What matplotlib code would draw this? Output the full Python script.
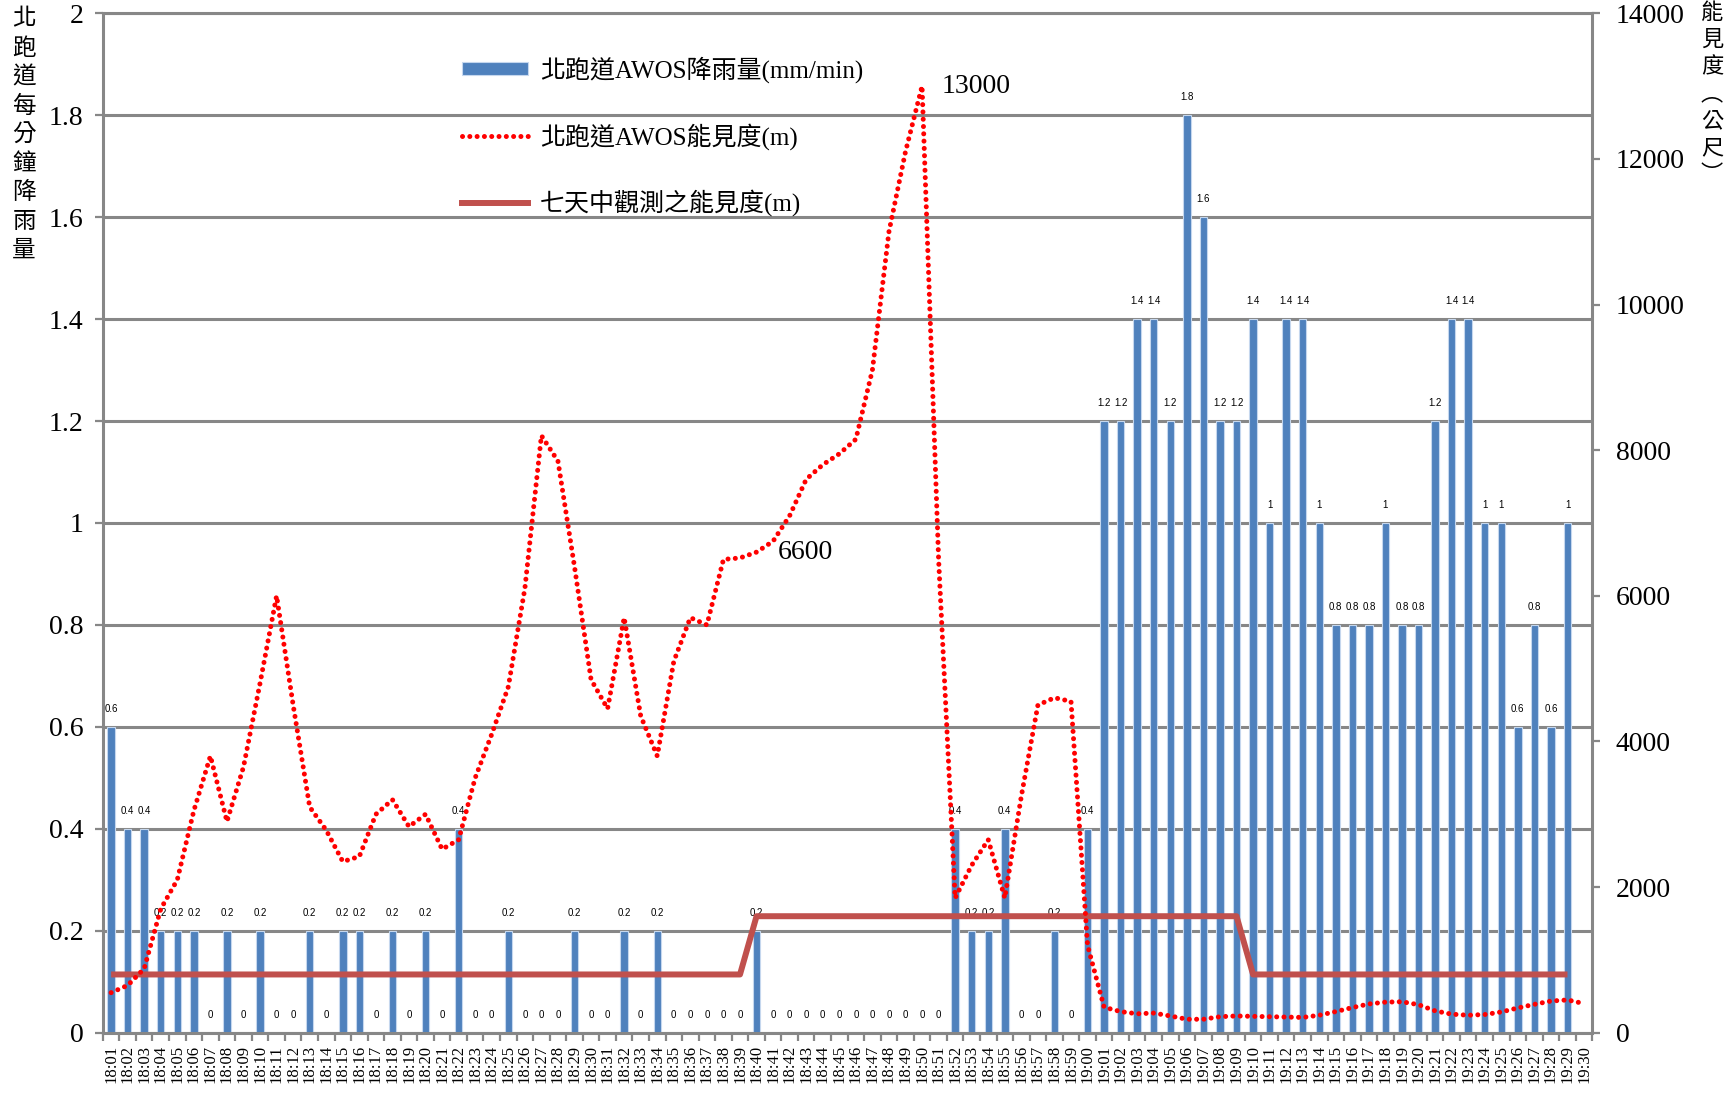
import numpy as np
import matplotlib
matplotlib.use("Agg")
import matplotlib.pyplot as plt
from matplotlib.patches import Patch
from matplotlib.lines import Line2D

plt.rcParams['font.family'] = ['Liberation Serif', 'Noto Sans CJK TC', 'DejaVu Sans']

times = ["18:01", "18:02", "18:03", "18:04", "18:05", "18:06", "18:07", "18:08", "18:09", "18:10",
         "18:11", "18:12", "18:13", "18:14", "18:15", "18:16", "18:17", "18:18", "18:19", "18:20",
         "18:21", "18:22", "18:23", "18:24", "18:25", "18:26", "18:27", "18:28", "18:29", "18:30",
         "18:31", "18:32", "18:33", "18:34", "18:35", "18:36", "18:37", "18:38", "18:39", "18:40",
         "18:41", "18:42", "18:43", "18:44", "18:45", "18:46", "18:47", "18:48", "18:49", "18:50",
         "18:51", "18:52", "18:53", "18:54", "18:55", "18:56", "18:57", "18:58", "18:59", "19:00",
         "19:01", "19:02", "19:03", "19:04", "19:05", "19:06", "19:07", "19:08", "19:09", "19:10",
         "19:11", "19:12", "19:13", "19:14", "19:15", "19:16", "19:17", "19:18", "19:19", "19:20",
         "19:21", "19:22", "19:23", "19:24", "19:25", "19:26", "19:27", "19:28", "19:29", "19:30"]

# rain (mm/min), 18:01 - 19:29
rain = [0.6, 0.4, 0.4, 0.2, 0.2, 0.2, 0, 0.2, 0, 0.2,
        0, 0, 0.2, 0, 0.2, 0.2, 0, 0.2, 0, 0.2,
        0, 0.4, 0, 0, 0.2, 0, 0, 0, 0.2, 0,
        0, 0.2, 0, 0.2, 0, 0, 0, 0, 0, 0.2,
        0, 0, 0, 0, 0, 0, 0, 0, 0, 0,
        0, 0.4, 0.2, 0.2, 0.4, 0, 0, 0.2, 0, 0.4,
        1.2, 1.2, 1.4, 1.4, 1.2, 1.8, 1.6, 1.2, 1.2, 1.4,
        1, 1.4, 1.4, 1, 0.8, 0.8, 0.8, 1, 0.8, 0.8,
        1.2, 1.4, 1.4, 1, 1, 0.6, 0.8, 0.6, 1]

# AWOS visibility (m), 18:01 - 19:30
vis = [550, 650, 880, 1700, 2100, 3050, 3800, 2900, 3650, 4800,
       6000, 4500, 3100, 2780, 2350, 2420, 3000, 3200, 2830, 3000,
       2520, 2650, 3500, 4100, 4750, 6100, 8200, 7850, 6400, 4850,
       4450, 5700, 4350, 3800, 5100, 5700, 5600, 6500, 6520, 6600,
       6750, 7100, 7600, 7800, 7950, 8150, 9100, 11000, 12100, 13000,
       6500, 1850, 2300, 2650, 1850, 3250, 4500, 4600, 4550, 1200,
       350, 290, 260, 270, 230, 185, 185, 220, 230, 225,
       220, 215, 210, 240, 290, 345, 395, 420, 425, 385,
       300, 255, 240, 250, 285, 340, 390, 435, 450, 400]

# seven-day observed visibility (m), 18:01 - 19:29
vis7 = [800] * 39 + [1600] * 30 + [800] * 20

rain_label = "北跑道AWOS降雨量(mm/min)"
vis_label = "北跑道AWOS能見度(m)"
vis7_label = "七天中觀測之能見度(m)"
left_title = "北\n跑\n道\n每\n分\n鐘\n降\n雨\n量"
right_title = "能\n見\n度\n︵\n公\n尺\n︶"

BLUE = "#4F81BD"
RED = "#FF0000"
DRED = "#C0504D"
GRAY = "#878787"

fig = plt.figure(figsize=(17.34, 10.97), dpi=100)
ax = fig.add_axes([0.0593, 0.0586, 0.859, 0.9293])
ax2 = ax.twinx()

x = np.arange(len(times))
xr = np.arange(len(rain))
xs = np.arange(len(vis7))

ax.bar(xr, rain, width=0.45, color=BLUE, edgecolor="#C5D7EE", linewidth=0.8, zorder=2)
for i, v in zip(xr, rain):
    ax.annotate(f"{v:g}", (i, v), xytext=(0, 13), textcoords="offset points",
                ha="center", va="center", fontsize=7, family=["Liberation Sans"], zorder=3)

ax.set_xlim(-0.5, len(times) - 0.5)
ax.set_ylim(0, 2)
ax.set_yticks(np.arange(0, 2.01, 0.2))
ax.set_yticklabels([f"{t:g}" for t in np.round(np.arange(0, 2.01, 0.2), 1)])
ax.yaxis.grid(True, color=GRAY, linewidth=2.2)
ax.set_axisbelow(True)

ax.set_xticks(x)
ax.set_xticklabels(times, rotation=90, fontsize=12)
ax.set_xticks(np.arange(-0.5, len(times), 1), minor=True)
ax.tick_params(axis="x", which="major", length=0, pad=9)
ax.tick_params(axis="x", which="minor", length=6, width=1.6, color=GRAY, direction="out")
ax.tick_params(axis="y", direction="out", length=6, width=1.6, color=GRAY, labelsize=20, pad=8)

for s in ["left", "bottom", "top"]:
    ax.spines[s].set_color(GRAY)
    ax.spines[s].set_linewidth(2.2)
ax.spines["right"].set_visible(False)

dot_style = (0, (0.01, 1.45))
ax2.plot(xs, vis7, color=DRED, linewidth=4.3, solid_capstyle="butt", zorder=3)
ax2.plot(x, vis, color=RED, linewidth=3.6, linestyle=dot_style,
         dash_capstyle="round", zorder=4)
ax2.set_ylim(0, 14000)
ax2.set_yticks(np.arange(0, 14001, 2000))
ax2.tick_params(axis="y", direction="out", length=6, width=1.6, color=GRAY, labelsize=20, pad=11)
for s in ["left", "bottom", "top"]:
    ax2.spines[s].set_visible(False)
ax2.spines["right"].set_color(GRAY)
ax2.spines["right"].set_linewidth(2.2)

ax2.annotate(f"{vis[49]}", (49, vis[49]), xytext=(14, 0), textcoords="offset points",
             ha="left", va="center", fontsize=20)
ax2.annotate(f"{vis[39]}", (39, vis[39]), xytext=(15, 0), textcoords="offset points",
             ha="left", va="center", fontsize=20)

handles = [Patch(facecolor=BLUE, edgecolor="#C5D7EE", linewidth=0.8),
           Line2D([], [], color=RED, linewidth=3.6, linestyle=dot_style, dash_capstyle="round"),
           Line2D([], [], color=DRED, linewidth=4.3)]
ax2.legend(handles, [rain_label, vis_label, vis7_label], loc="upper left",
           bbox_to_anchor=(0.2413, 0.958), frameon=False, fontsize=18,
           borderpad=0, borderaxespad=0, handlelength=2.65, handleheight=0.45,
           handletextpad=0.45, labelspacing=1.6)

fig.text(0.0139, 0.993, left_title, ha="center", va="top", fontsize=17,
         family=["Noto Sans CJK TC"], linespacing=1.33)
fig.text(0.9873, 0.999, right_title, ha="center", va="top", fontsize=16,
         family=["Noto Sans CJK TC"], linespacing=1.22)

fig.savefig("out.png", dpi=100)
